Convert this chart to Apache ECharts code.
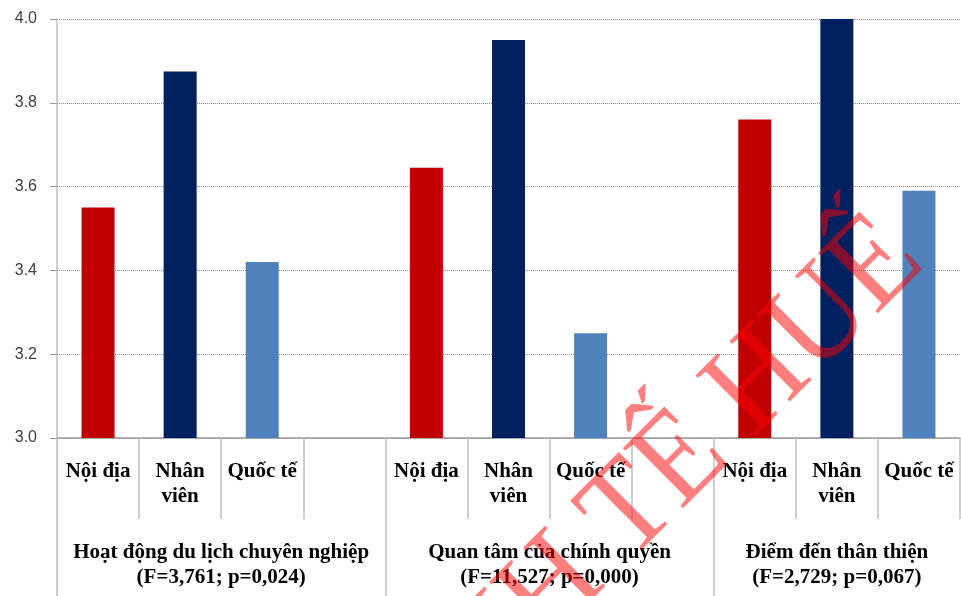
<!DOCTYPE html>
<html>
<head>
<meta charset="utf-8">
<script src="https://cdn.jsdelivr.net/npm/echarts@6/dist/echarts.min.js"></script>
<style>
  html, body { margin: 0; padding: 0; background: #fff; }
  #chart { width: 961px; height: 596px; }
</style>
</head>
<body>
<div id="chart"></div>
<script>
// Mean scores by respondent type, three evaluation criteria
const categories = [
  'Nội địa', 'Nhân viên', 'Quốc tế', '',
  'Nội địa', 'Nhân viên', 'Quốc tế', '',
  'Nội địa', 'Nhân viên', 'Quốc tế'
];
const values = [
  3.55, 3.875, 3.42, null,
  3.645, 3.95, 3.25, null,
  3.76, 4.00, 3.59
];
const groupLabels = [
  'Hoạt động du lịch chuyên nghiệp\n(F=3,761; p=0,024)',
  'Quan tâm của chính quyền\n(F=11,527; p=0,000)',
  'Điểm đến thân thiện\n(F=2,729; p=0,067)'
];
const groupSpans = [4, 4, 3];
const yTicks = [3.0, 3.2, 3.4, 3.6, 3.8, 4.0];

const kindColors = {
  'Nội địa': '#C00000',
  'Nhân viên': '#002060',
  'Quốc tế': '#4F81BD'
};

// group boundaries and centres on a 0..N slot scale
const groupEdges = [0];
groupSpans.forEach(s => groupEdges.push(groupEdges[groupEdges.length - 1] + s));
const groupCenters = groupSpans.map((s, i) => groupEdges[i] + s / 2);

const serif = '"Liberation Serif", "Times New Roman", serif';
const gridColor = '#BFBFBF';

const chart = echarts.init(document.getElementById('chart'), null, { renderer: 'canvas' });

chart.setOption({
  backgroundColor: '#ffffff',
  animation: false,
  grid: { left: 57, right: 1, top: 19, bottom: 158, containLabel: false },
  xAxis: [
    {
      type: 'category',
      data: categories,
      boundaryGap: true,
      axisLine: { show: true, lineStyle: { color: '#9a9a9a', width: 1.5 } },
      axisTick: { show: true, interval: 0, length: 81, lineStyle: { color: gridColor, width: 1.5 } },
      axisLabel: {
        interval: 0,
        margin: 21,
        color: '#000',
        fontFamily: serif,
        fontWeight: 'bold',
        fontSize: 21,
        lineHeight: 25,
        verticalAlign: 'top',
        formatter: v => v.replace(' viên', '\nviên')
      },
      splitLine: { show: false }
    },
    {
      type: 'value',
      min: 0,
      max: categories.length,
      position: 'bottom',
      axisLine: { show: false },
      axisTick: {
        show: true,
        customValues: groupEdges.slice(0, groupEdges.length - 1),
        length: 158,
        lineStyle: { color: gridColor, width: 1.5 }
      },
      axisLabel: {
        show: true,
        customValues: groupCenters,
        margin: 102,
        color: '#000',
        fontFamily: serif,
        fontWeight: 'bold',
        fontSize: 21,
        lineHeight: 25,
        verticalAlign: 'top',
        align: 'center',
        formatter: v => {
          const i = groupCenters.indexOf(v);
          return i >= 0 ? groupLabels[i] : '';
        }
      },
      splitLine: { show: false }
    }
  ],
  yAxis: {
    type: 'value',
    min: yTicks[0],
    max: yTicks[yTicks.length - 1],
    interval: 0.2,
    axisLine: { show: true, lineStyle: { color: gridColor, width: 1.5 } },
    axisTick: { show: true, length: 7, lineStyle: { color: '#9a9a9a', width: 1 } },
    axisLabel: {
      margin: 20,
      color: '#404040',
      fontFamily: '"Liberation Sans", Arial, sans-serif',
      fontSize: 16,
      formatter: v => v.toFixed(1)
    },
    splitLine: { show: true, lineStyle: { color: '#8c8c8c', type: 'dotted', width: 1 } }
  },
  series: [
    {
      type: 'bar',
      xAxisIndex: 0,
      yAxisIndex: 0,
      barWidth: 33,
      data: values.map((v, i) => ({
        value: v,
        itemStyle: { color: kindColors[categories[i]] || '#000' }
      }))
    }
  ],
  graphic: [
    {
      type: 'text',
      x: 903,
      y: 240,
      rotation: Math.PI / 4,
      scaleX: 0.92,
      z: 100,
      silent: true,
      style: {
        text: 'KINH TẾ HUẾ',
        fill: 'rgba(255,0,0,0.5)',
        font: '130px "Liberation Serif", "Times New Roman", serif',
        align: 'right',
        verticalAlign: 'middle'
      }
    }
  ]
});
</script>
</body>
</html>
